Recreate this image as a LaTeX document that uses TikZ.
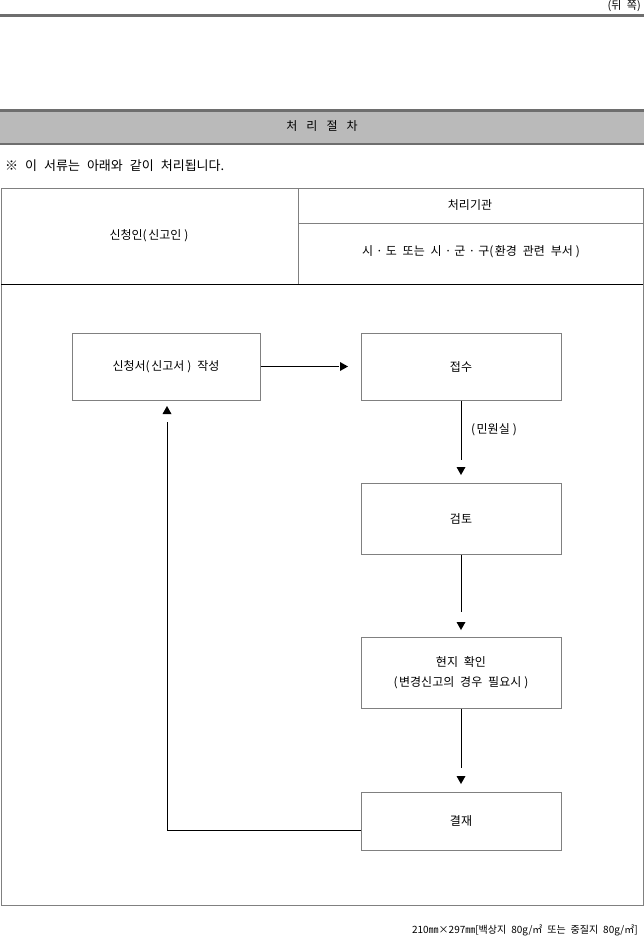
\documentclass[tikz,border=0pt]{standalone}
\usepackage{fontspec}
\setmainfont[WordSpace=2.2]{Noto Sans CJK KR}
\definecolor{boxgray}{gray}{0.5}
\definecolor{bandgray}{gray}{0.73}
\definecolor{rulegray}{gray}{0.43}
\newcommand{\lp}{(\hspace{1.5pt}}
\newcommand{\rp}{\hspace{3pt})}
\newcommand{\md}{\hspace{3pt}·\hspace{3pt}}
\begin{document}
\begin{tikzpicture}[x=1pt,y=-1pt,
  every node/.style={inner sep=0pt, font=\fontsize{12}{15}\selectfont},
  box/.style={draw=boxgray, line width=1pt, minimum width=200pt, align=center},
  conn/.style={draw=black, line width=1pt},
  tbl/.style={draw=boxgray, line width=1pt},
  head/.style={fill=black}]
\useasboundingbox (0,0) rectangle (644,938);
% top header
\node[anchor=east, font=\fontsize{11}{13}\selectfont] (page) at (641,6.5) {(뒤 쪽)};
\draw[rulegray, line width=3pt] (0,15) -- (644,15);
% title band
\fill[bandgray] (0,111) rectangle (644,144);
\draw[rulegray, line width=3pt] (0,110) -- (644,110);
\draw[rulegray, line width=1.2pt] (0,144) -- (644,144);
\node (title) at (322,126) {처\hspace{9pt}리\hspace{9pt}절\hspace{9pt}차};
\node[anchor=west, font=\fontsize{13}{15}\selectfont] (note) at (5,166) {※\hspace{7pt}이\hspace{7pt}서류는\hspace{7pt}아래와\hspace{7pt}같이\hspace{7pt}처리됩니다.};
% table
\draw[tbl] (1,188) rectangle (643,905);
\draw[tbl] (298,188) -- (298,284);
\draw[tbl] (298,223) -- (643,223);
\draw[black, line width=1pt] (1,284) -- (643,284);
\node (applicant) at (149,236) {신청인\lp 신고인\rp};
\node (agency) at (470,205) {처리기관};
\node (agencyname) at (471,252) {시\md 도 또는 시\md 군\md 구\lp 환경 관련 부서\rp};
% flow boxes
\node[box, minimum width=188pt, minimum height=67pt] (b1) at (166,366.5) {신청서\lp 신고서\rp\ 작성};
\node[box, minimum height=67pt] (b2) at (461,366.5) {접수};
\node[box, minimum height=71pt] (b3) at (461,518.5) {검토};
\node[box, minimum height=71pt, font=\fontsize{12}{20}\selectfont] (b4) at (461,672.5) {현지 확인\\\lp 변경신고의 경우 필요시\rp};
\node[box, minimum height=58pt] (b5) at (461,821) {결재};
% connectors
\coordinate (c1) at (339,366.5);
\draw[conn] (b1.east) -- (c1);
\fill[head] (348,366.5) -- (340,362) -- (340,371) -- cycle;
\coordinate (c2) at (461,460);
\draw[conn] (b2.south) -- (c2);
\node (desk) at (494,430) {\lp 민원실\rp};
\fill[head] (461,475) -- (456.5,467) -- (465.5,467) -- cycle;
\coordinate (c3) at (461,612);
\draw[conn] (b3.south) -- (c3);
\fill[head] (461,630) -- (456.5,622) -- (465.5,622) -- cycle;
\coordinate (c4) at (461,768);
\draw[conn] (b4.south) -- (c4);
\fill[head] (461,784) -- (456.5,776) -- (465.5,776) -- cycle;
\coordinate (c5) at (167,830);
\coordinate (c6) at (167,422);
\draw[conn] (b5.west |- 0,830) -- (c5) -- (c6);
\fill[head] (167,406) -- (162.5,414) -- (171.5,414) -- cycle;
% footer
\node[anchor=east, font=\fontsize{10}{12}\selectfont] (paper) at (638,930) {210㎜×297㎜[백상지 80g/㎡ 또는 중질지 80g/㎡]};
\end{tikzpicture}
\end{document}
